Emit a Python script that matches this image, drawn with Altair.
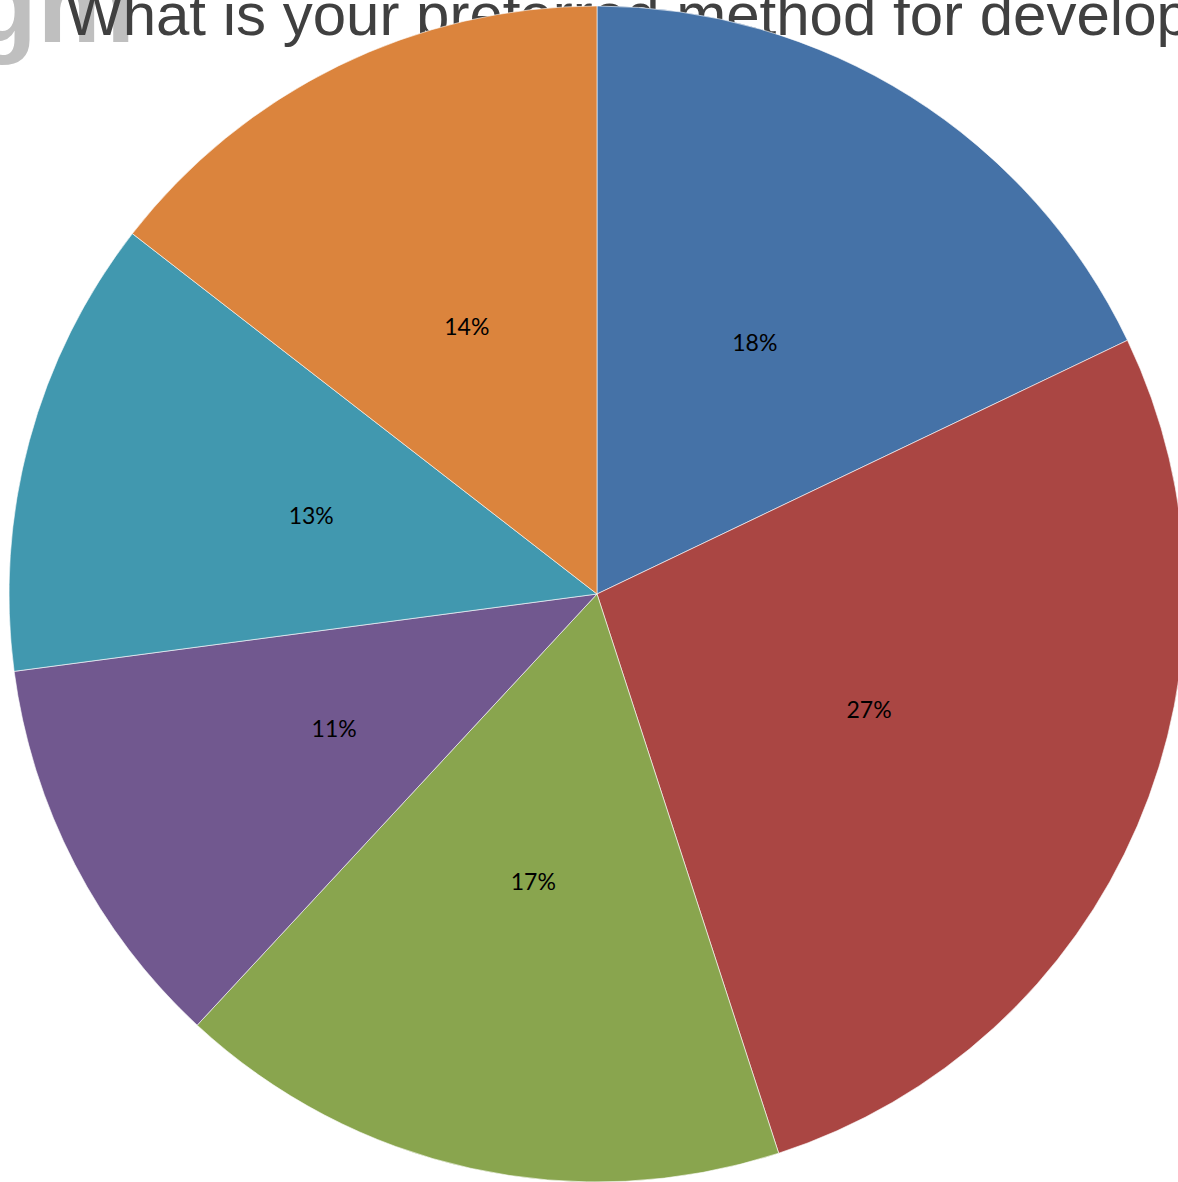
import altair as alt
import pandas as pd

categories = ["Option A", "Option B", "Option C", "Option D", "Option E", "Option F"]
values = [17.9, 27.1, 16.9, 11.0, 12.6, 14.5]
labels = ["18%", "27%", "17%", "11%", "13%", "14%"]
colors = ["#4572A7", "#AA4643", "#89A54E", "#71588F", "#4198AF", "#DB843D"]
order = [1, 2, 3, 4, 5, 6]

title_text = ["What is your preferred method for developing"]
logo_text = ["gm"]

df = pd.DataFrame({"category": categories, "value": values, "label": labels, "order": order})
tdf = pd.DataFrame({"t": title_text})
ldf = pd.DataFrame({"t": logo_text})

CX, CY, R = 597, 594, 588

logo = alt.Chart(ldf).mark_text(
    font="Liberation Sans", fontSize=110, fontWeight="bold", color="#bfbfbf",
    align="left", baseline="alphabetic"
).encode(x=alt.value(-30), y=alt.value(42), text="t:N")

title = alt.Chart(tdf).mark_text(
    font="Liberation Sans", fontSize=60, color="#404040",
    align="left", baseline="alphabetic"
).encode(x=alt.value(66), y=alt.value(35), text="t:N")

base = alt.Chart(df).encode(
    theta=alt.Theta("value:Q", stack=True),
    order=alt.Order("order:Q"),
)

pie = base.mark_arc(radius=R, stroke="#ffffff", strokeWidth=0.6).encode(
    x=alt.value(CX), y=alt.value(CY),
    color=alt.Color("category:N", scale=alt.Scale(domain=categories, range=colors), legend=None),
)

text = base.mark_text(radius=296, font="Lato", fontSize=23, color="#000000").encode(
    x=alt.value(CX), y=alt.value(CY),
    text="label:N",
)

chart = alt.layer(logo, title, pie, text).properties(
    width=1178, height=1182, padding=0,
    autosize=alt.AutoSizeParams(type="none"),
).configure_view(stroke=None)

chart.save("out.html", embed_options={"renderer": "svg", "actions": False})
